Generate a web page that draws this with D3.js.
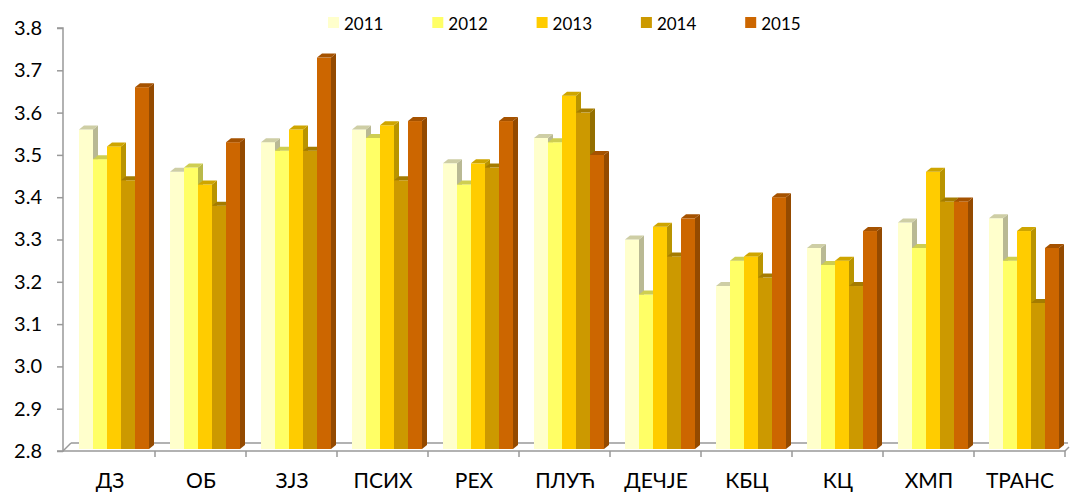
<!DOCTYPE html>
<html><head><meta charset="utf-8">
<script src="https://cdn.jsdelivr.net/npm/d3@7"></script>
<style>body{margin:0;background:#fff}svg{display:block;font-family:Lato,"Open Sans",sans-serif}</style>
</head><body><svg id="c" width="1071" height="492"></svg>
<script>
const categories = ["ДЗ","ОБ","ЗЈЗ","ПСИХ","РЕХ","ПЛУЋ","ДЕЧЈЕ","КБЦ","КЦ","ХМП","ТРАНС"];
const years = ["2011","2012","2013","2014","2015"];
const v2011 = [3.56,3.46,3.53,3.56,3.48,3.54,3.30,3.19,3.28,3.34,3.35];
const v2012 = [3.49,3.47,3.51,3.54,3.43,3.53,3.17,3.25,3.24,3.28,3.25];
const v2013 = [3.52,3.43,3.56,3.57,3.48,3.64,3.33,3.26,3.25,3.46,3.32];
const v2014 = [3.44,3.38,3.51,3.44,3.47,3.60,3.26,3.21,3.19,3.39,3.15];
const v2015 = [3.66,3.53,3.73,3.58,3.58,3.50,3.35,3.40,3.32,3.39,3.28];
const yTicks = [2.8,2.9,3.0,3.1,3.2,3.3,3.4,3.5,3.6,3.7,3.8];
const colors = ["#FFFFCC","#FFFF66","#FFCC00","#CC9900","#CC6600"];
const series = [v2011,v2012,v2013,v2014,v2015];

const svg = d3.select("#c");
const y = d3.scaleLinear().domain([2.8,3.8]).range([451,28]);
const x = d3.scaleBand().domain(categories).range([64,1065]);
const xi = d3.scaleBand().domain(years).range([15,85]);
const dx = 5, dy = 4, base = 449;

// back floor line
svg.append("line").attr("x1",63).attr("y1",451).attr("x2",71).attr("y2",443).attr("stroke","#999").attr("stroke-width",1.5);
svg.append("line").attr("x1",71).attr("y1",443).attr("x2",1068).attr("y2",443).attr("stroke","#999").attr("stroke-width",1.5);

// bars
categories.forEach((c,ci)=>{
  const g = svg.append("g").attr("transform",`translate(${x(c)},0)`);
  years.forEach((yr,si)=>{
    const v = series[si][ci];
    const x0 = xi(yr), w = xi.bandwidth(), yt = y(v);
    const col = d3.color(colors[si]);
    g.append("path").attr("d",`M${x0+w},${yt}L${x0+w+dx},${yt-dy}L${x0+w+dx},${base-dy}L${x0+w},${base}Z`).attr("fill",col.darker(0.9));
    g.append("rect").attr("x",x0).attr("y",yt).attr("width",w).attr("height",base-yt).attr("fill",colors[si]);
    g.append("path").attr("d",`M${x0},${yt}L${x0+dx},${yt-dy}L${x0+w+dx},${yt-dy}L${x0+w},${yt}Z`).attr("fill",col.darker(0.6));
  });
});

// y axis
const ya = svg.append("g").attr("transform","translate(63,0)")
  .call(d3.axisLeft(y).tickValues(yTicks).tickFormat(d3.format(".1f")).tickSize(6).tickPadding(15));
ya.selectAll("path,line").attr("stroke","#999").attr("stroke-width",1.5);
ya.select(".domain").attr("d","M-6,28H0V451H-6");
ya.selectAll("text").attr("font-size",20).attr("fill","#000").attr("font-family","Lato,sans-serif");

// x axis
const xa = svg.append("g").attr("transform","translate(0.5,451)")
  .call(d3.axisBottom(x).tickSize(0).tickPadding(0));
xa.select(".domain").remove();
xa.selectAll("text").attr("font-size",21).attr("fill","#000").attr("font-family","Lato,sans-serif")
  .attr("dy",null).attr("y",37);
svg.append("line").attr("x1",63).attr("x2",1065).attr("y1",451).attr("y2",451).attr("stroke","#999").attr("stroke-width",1.5);
svg.append("line").attr("x1",1065).attr("x2",1069).attr("y1",451).attr("y2",447).attr("stroke","#999").attr("stroke-width",1.5);
svg.selectAll(".xt").data(categories).enter().append("line")
  .attr("x1",d=>x(d)+x.bandwidth()).attr("x2",d=>x(d)+x.bandwidth())
  .attr("y1",451).attr("y2",457).attr("stroke","#999").attr("stroke-width",1.5);

// legend
const lg = svg.append("g");
years.forEach((yr,i)=>{
  const lx = 328 + i*104.3;
  lg.append("rect").attr("x",lx).attr("y",17).attr("width",11).attr("height",11).attr("fill",colors[i]);
  lg.append("text").attr("x",lx+16).attr("y",29.5).attr("font-size",17).attr("fill","#000").text(yr);
});
</script></body></html>
